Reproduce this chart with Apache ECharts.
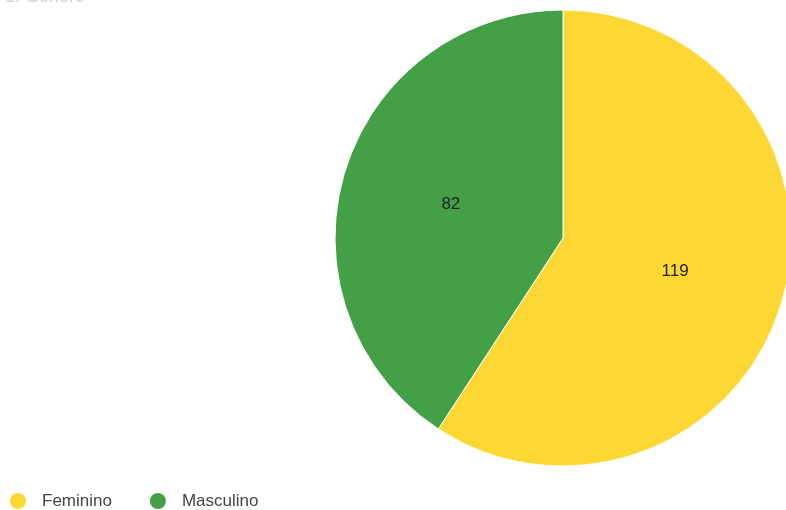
<!DOCTYPE html>
<html>
<head>
<meta charset="utf-8">
<style>
  html, body { margin: 0; padding: 0; background: #fff; }
  #chart { width: 786px; height: 510px; }
</style>
<script src="https://cdn.jsdelivr.net/npm/echarts@6/dist/echarts.min.js"></script>
</head>
<body>
<div id="chart"></div>
<script>
// Gender breakdown of respondents
const categories = ['Feminino', 'Masculino'];
const counts = [119, 82];
const colors = ['#FDD835', '#43A047'];

const chart = echarts.init(document.getElementById('chart'));
chart.setOption({
  animation: false,
  textStyle: { fontFamily: 'Liberation Sans, Arial, sans-serif' },
  title: {
    text: '1. Gênero',
    left: 0,
    top: -17,
    textStyle: { fontSize: 18, fontWeight: 'normal', color: '#d4d4d4' }
  },
  legend: {
    left: 8,
    top: 491,
    padding: 0,
    icon: 'circle',
    itemWidth: 18,
    itemHeight: 18,
    itemGap: 36,
    textStyle: { fontSize: 17, color: '#444', padding: [0, 0, 0, 10] },
    data: categories
  },
  series: [{
    type: 'pie',
    center: [563, 238],
    radius: 228,
    startAngle: 90,
    clockwise: true,
    color: colors,
    itemStyle: { borderColor: '#fff', borderWidth: 1 },
    label: {
      show: true,
      position: 'inside',
      formatter: '{c}',
      fontSize: 17,
      color: '#222'
    },
    labelLine: { show: false },
    data: categories.map((name, i) => ({ name, value: counts[i] }))
  }]
});
</script>
</body>
</html>
